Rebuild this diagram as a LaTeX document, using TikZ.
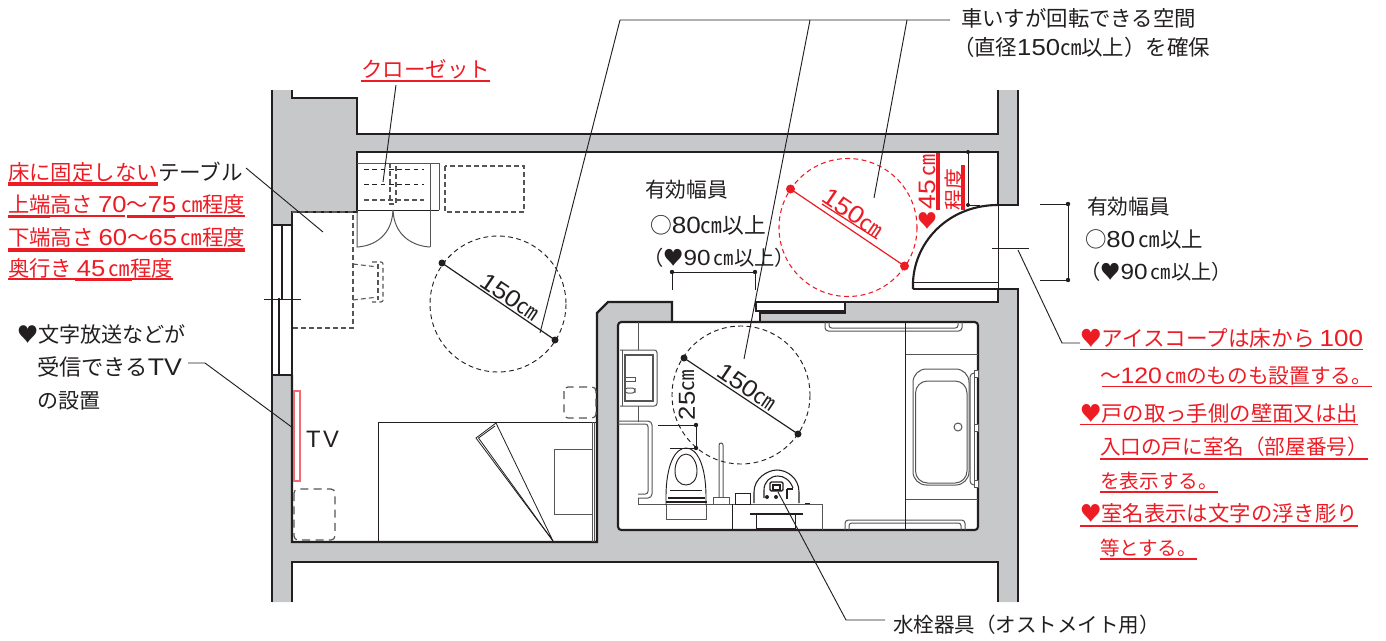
\documentclass[tikz,border=0pt]{standalone}
\usepackage{fontspec}
\usepackage{graphicx}
\setmainfont{Noto Sans CJK JP}
\newfontfamily\latf{Liberation Sans}
\definecolor{wallg}{HTML}{C6C8CA}
\definecolor{inkk}{HTML}{231F20}
\definecolor{redd}{HTML}{ED1C24}
\definecolor{furn}{HTML}{555555}
\newlength\fitlen
\newcommand{\fitw}[2]{\setlength{\fitlen}{\dimexpr #1pt*3/4\relax}\resizebox{\fitlen}{!}{#2}}
\newcommand{\nn}[1]{\scalebox{1.2}[1.08]{\latf #1}}
\newcommand{\cmu}{㎝}
\newcommand{\wav}{〜}
\tikzset{
 lab/.style={inner sep=0pt,outer sep=0pt,anchor=base west,text=inkk,font=\fontsize{15.5}{18}\selectfont},
 rlab/.style={lab,text=redd},
 wall/.style={draw=inkk,line width=1.8pt,line join=miter},
 thinl/.style={draw=inkk,line width=0.7pt},
 lead/.style={draw=inkk,line width=0.7pt},
 furl/.style={draw=furn,line width=0.75pt},
 dash1/.style={draw=inkk,line width=0.7pt,dash pattern=on 3.6pt off 2.6pt},
 dash2/.style={draw=furn,line width=0.8pt,dash pattern=on 3.6pt off 2.4pt},
 dash3/.style={draw=furn,line width=0.9pt,dash pattern=on 6pt off 4pt,rounded corners=3pt},
 redul/.style={draw=redd,line width=1.2pt},
 redul2/.style={draw=redd,line width=2.4pt},
 dotk/.style={fill=inkk},
 dotr/.style={fill=redd},
}
\begin{document}
\begin{tikzpicture}[x=0.75pt,y=-0.75pt]
\useasboundingbox (0,0) rectangle (1386,640);
\fill[white] (0,0) rectangle (1386,640);
% grey body
\fill[wallg] (272,90)--(292,90)--(292,98)--(357,98)--(357,134)--(998,134)--(998,90)--(1018,90)--(1018,602)--(998,602)--(998,562)--(292,562)--(292,602)--(272,602)--cycle;
% white spaces
\fill[white] (292,212)--(357,212)--(357,152)--(998,152)--(998,205)--(1020,205)--(1020,289)--(998,289)--(998,302)--(760,302)--(760,322)--(672,322)--(672,302)--(608,302)--(597,313)--(597,542)--(292,542)--cycle;
\fill[white] (272,225) rectangle (292,375);
\fill[white,rounded corners=2.5pt] (618,322) rectangle (978,530);
% wall outlines
\draw[wall] (272,90)--(272,602);
\draw[wall] (292,90)--(292,98)--(357,98)--(357,134)--(998,134)--(998,90);
\draw[wall] (1018,90)--(1018,205)--(998,205);
\draw[wall] (1018,602)--(1018,289)--(913,289);
\draw[wall] (998,602)--(998,562)--(292,562)--(292,602);
\draw[wall] (292,375)--(292,212)--(357,212)--(357,152)--(998,152)--(998,205);
\draw[wall] (998,289)--(998,302)--(845,302);
\draw[wall] (292,375)--(292,542)--(597,542)--(597,313)--(608,302)--(672,302)--(672,322);
\draw[wall] (760,322)--(760,313)--(845,313)--(845,302);
\draw[wall,line width=1.3pt] (272,225)--(292,225);
\draw[wall,line width=1.3pt] (272,375)--(292,375);
\draw[wall,line width=1.6pt,rounded corners=2.5pt] (618,322) rectangle (978,530);
% sliding door in the passage
\fill[white] (756,303) rectangle (844,311);
\draw[wall,line width=1.2pt] (845,302)--(756,302)--(756,311)--(845,311);
% window
\draw[wall,line width=1.3pt] (282,225)--(282,300);
\draw[wall,line width=1.0pt] (279,298)--(279,375);
\coordinate (wtick1) at (264,299); \coordinate (wtick2) at (301,299);
\draw[thinl] (wtick1)--(wtick2);
% entrance door
\draw[thinl] (998,205)--(998,289);
\draw[thinl] (913,282)--(998,282);
\draw[draw=inkk,line width=1.6pt] (913,289)--(913,282) .. controls (915,240) and (950,205) .. (998,205);
\coordinate (dt1) at (992,248); \coordinate (dt2) at (1029,248);
\draw[thinl] (dt1)--(dt2);
% closet
\draw[furl] (357,163)--(439,163)--(439,210);
\draw[thinl] (357,210)--(439,210);
\draw[furl] (430,163)--(430,247);
\draw[furl] (357,210)--(357,247) .. controls (375,246) and (392,235) .. (393,210);
\draw[furl] (430,247) .. controls (412,246) and (394,235) .. (393,210);
\draw[dash1] (364,169)--(424,169);
\draw[dash1] (364,184)--(424,184);
\draw[dash2] (364,200)--(424,200);
\draw[dash2] (390,163)--(390,204)--(396,204)--(396,163);
\draw[dash2] (445,166) rectangle (524,212);
% table and chair
\draw[dash2] (292,212)--(353,212)--(353,328)--(292,328);
\draw[dash2] (353,264)--(378,267);
\draw[dash2] (353,300)--(378,297);
\draw[dash2,rounded corners=1.5pt] (372,262)--(383,262)--(383,302)--(372,302);
\draw[dash2] (378,264)--(378,300);
% bed
\draw[thinl] (378,542)--(378,422)--(597,422);
\draw[furl] (592,422)--(592,542);
\draw[furl] (594,422)--(594,542);
\draw[furl] (592,449)--(554,449)--(554,514)--(592,514);
\draw[thinl,line width=0.6pt] (553,541)--(476,438)--(496,423)--cycle;
\draw[thinl,line width=0.6pt] (553,541)--(478.5,438)--(495,426);
% tv
\draw[draw=redd!65,line width=0.8pt] (294,391) rectangle (300,481);
% dashed boxes
\draw[dash3] (294,489) rectangle (335,540);
\draw[dash3] (564,387) rectangle (596,418);
% bath room fittings
\draw[furl] (638,322)--(638,350);
\draw[furl] (638,406)--(638,422);
\draw[furl] (638,498)--(638,504)--(822,504)--(822,530);
\draw[thinl] (732,504)--(732,530);
\draw[furl,rounded corners=2pt] (620,350)--(657,350)--(657,406)--(620,406);
\draw[furl,line width=1.1pt] (625,355) rectangle (653,401);
\draw[furl] (622,350)--(622,406);
\draw[furl,fill=white] (625,377) rectangle (635,381);
\draw[furl,rounded corners=2pt] (625,388) rectangle (635,393);
% L-shaped rail
\draw[furl,rounded corners=3pt] (618,421)--(652,421)--(652,498)--(638,498);
\draw[furl,rounded corners=2pt] (618,424)--(648,424)--(648,494)--(638,494);
% toilet
\draw[thinl] (666,505)--(666,497) .. controls (666,465) and (675,448) .. (686,448) .. controls (697,448) and (706,465) .. (706,497)--(706,505);
\draw[thinl] (686,454) .. controls (680,454) and (675,462) .. (675,471) .. controls (675,480) and (680,485) .. (686,485) .. controls (692,485) and (697,480) .. (697,471) .. controls (697,462) and (692,454) .. (686,454) -- cycle;
\draw[furl] (666,505)--(666,519)--(706,519)--(706,505);
\draw[thinl] (670,490)--(702,490);
\draw[thinl,line width=1.4pt] (668,498)--(705,498);
\draw[thinl,line width=1.4pt] (666,502)--(707,502);
% vertical grip
\draw[furl,rounded corners=1.5pt] (719,497)--(719,443)--(723,443)--(723,497);
\draw[furl] (713,497) rectangle (729,504);
\draw[thinl] (735,493) rectangle (750,504);
% ostomate sink
\draw[thinl,line width=0.8pt] (754,503)--(754,492) .. controls (754,478) and (768,470) .. (777,470) .. controls (787,470) and (799,478) .. (799,492)--(799,503);
\draw[thinl,line width=0.8pt] (764,498)--(764,490) .. controls (764,482) and (770,476) .. (778,476) .. controls (784,476) and (790,480) .. (793,488);
\draw[thinl,line width=1pt,rounded corners=1pt] (770,482) rectangle (783,491);
\draw[thinl,line width=1pt] (773,485) rectangle (780,490);
\draw[thinl,line width=1.4pt] (787,489)--(787,499);
\draw[thinl,line width=1pt] (787,489)--(793,489);
\fill[inkk] (767,497) circle [radius=2];
\fill[inkk] (776,497) circle [radius=2];
\draw[thinl,line width=1.6pt] (750,514)--(803,514);
\draw[thinl] (756,515)--(756,529);
\draw[thinl] (795,515)--(795,529);
\draw[thinl,line width=1.4pt] (756,529)--(795,529);
\draw[thinl] (805,503)--(810,503);
% handrails
\draw[furl,rounded corners=2.5pt] (825,322)--(825,331)--(962,331)--(962,322);
\draw[furl,rounded corners=2pt] (829,322)--(829,328)--(958,328)--(958,322);
\draw[furl,rounded corners=2.5pt] (845,530)--(845,520)--(965,520)--(965,530);
\draw[furl,rounded corners=2pt] (849,530)--(849,523)--(961,523)--(961,530);
\draw[thinl] (905.5,322)--(905.5,530);
\draw[furl] (905.5,354)--(978,354);
\draw[furl] (905.5,499)--(978,499);
% tub
\draw[furl,rounded corners=10pt] (913,369) rectangle (969,485);
\draw[furl,rounded corners=9pt] (915.5,381) rectangle (967,483);
\draw[furl,fill=white] (958,427) circle [radius=4];
\draw[furl,rounded corners=3pt] (974,373)--(970,373)--(970,485)--(974,485);
\draw[furl] (974,373)--(974,485);
\draw[furl,fill=white] (974,370) rectangle (978,377);
\draw[furl,fill=white] (974,424) rectangle (978,431);
\draw[furl,fill=white] (974,480) rectangle (978,487);
% circles
\coordinate (ca1) at (442,263); \coordinate (ca2) at (555,340);
\draw[dash1] (498,304) circle [radius=68];
\draw[draw=inkk,line width=0.9pt] (ca1)--(ca2);
\fill[dotk] (ca1) circle [radius=3.5];
\fill[dotk] (ca2) circle [radius=3.5];
\coordinate (cb1) at (684,358); \coordinate (cb2) at (798,434);
\draw[dash1] (741,395) circle [radius=69];
\draw[draw=inkk,line width=0.9pt] (cb1)--(cb2);
\fill[dotk] (cb1) circle [radius=3.5];
\fill[dotk] (cb2) circle [radius=3.5];
\coordinate (cc1) at (790.5,189); \coordinate (cc2) at (904.5,266);
\draw[draw=redd,line width=0.8pt,dash pattern=on 3.6pt off 2.6pt] (848,227.5) circle [radius=69];
\draw[draw=redd,line width=0.9pt] (cc1)--(cc2);
\fill[dotr] (cc1) circle [radius=4.5];
\fill[dotr] (cc2) circle [radius=4.5];
\draw[redul,line width=0.9pt] (822,204)--(877,239);
% 25 cm dimension
\coordinate (d25a) at (696,425); \coordinate (d25b) at (696,448);
\draw[thinl] (658,425)--(d25a)--(d25b)--(670,448);
\fill[dotk] (d25a) circle [radius=2.2];
\fill[dotk] (d25b) circle [radius=2.2];
% 45 cm dimension
\coordinate (d45a) at (968,152); \coordinate (d45b) at (968,205);
\draw[thinl] (d45a)--(d45b)--(980,205);
\fill[dotk] (d45a) circle [radius=2];
\fill[dotk] (d45b) circle [radius=2];
% passage width dimension
\coordinate (dpa) at (672,272); \coordinate (dpb) at (755,272);
\draw[thinl] (672,290)--(dpa)--(dpb)--(755,290);
\fill[dotk] (dpa) circle [radius=2.2];
\fill[dotk] (dpb) circle [radius=2.2];
% entrance width dimension
\coordinate (dea) at (1068,204); \coordinate (deb) at (1068,280);
\draw[thinl] (1040,204)--(dea)--(deb)--(1040,280);
\fill[dotk] (dea) circle [radius=2.2];
\fill[dotk] (deb) circle [radius=2.2];
% leaders
\coordinate (lt0) at (950,20); \coordinate (lt1) at (620,20); \coordinate (lt2) at (810,20); \coordinate (lt3) at (907,20);
\coordinate (lt1e) at (540,333); \coordinate (lt2e) at (744,359); \coordinate (lt3e) at (874,198);
\draw[lead] (lt0)--(lt1)--(lt1e);
\draw[lead] (lt2)--(lt2e);
\draw[lead] (lt3)--(lt3e);
\coordinate (lc1) at (396,85); \coordinate (lc2) at (383,182);
\draw[lead] (lc1)--(lc2);
\coordinate (lta1) at (246,168); \coordinate (lta2) at (323,232);
\draw[lead] (lta1)--(lta2);
\coordinate (ltv0) at (188,363); \coordinate (ltv1) at (205,363); \coordinate (ltv2) at (293,428);
\draw[lead] (ltv0)--(ltv1)--(ltv2);
\coordinate (ld0) at (1018,250); \coordinate (ld1) at (1062,343); \coordinate (ld2) at (1080,343);
\draw[lead] (ld0)--(ld1)--(ld2);
\coordinate (lw0) at (778,492); \coordinate (lw1) at (846,620); \coordinate (lw2) at (885,620);
\draw[lead] (lw0)--(lw1)--(lw2);
% texts
\node[lab] (t1) at (961,26) {\fitw{235}{車いすが回転できる空間}};
\node[lab] (t2) at (953,55) {\fitw{257}{（直径\nn{150}\cmu 以上）を確保}};
\node[rlab] (t3) at (361,77) {\fitw{129}{クローゼット}};
\draw[redul] (361,81)--(490,81);
\node[rlab] (t4) at (8,180) {\fitw{150}{床に固定しない}};
\node[lab] (t4b) at (158,180) {\fitw{85}{テーブル}};
\draw[redul2] (8,184)--(158,184);
\node[rlab] (t5) at (8,212.5) {\fitw{237}{上端高さ \nn{70}\wav\nn{75} \cmu 程度}};
\draw[redul] (8,216)--(125,216);
\draw[redul] (127,216)--(245,216);
\draw[redul2] (8,216.5)--(50,216.5);
\draw[redul2] (127,216.5)--(175,216.5);
\node[rlab] (t6) at (8,245) {\fitw{237}{下端高さ \nn{60}\wav\nn{65}\,\cmu 程度}};
\draw[redul2] (8,250)--(245,250);
\node[rlab] (t7) at (8,276.5) {\fitw{165}{奥行き \nn{45}\,\cmu 程度}};
\draw[redul] (8,279)--(173,279);
\draw[redul2] (75,279.5)--(132,279.5);
\node[lab] (t8) at (17,342) {\fitw{169}{♥文字放送などが}};
\node[lab] (t9) at (37,375) {\fitw{145}{受信できる\nn{TV}}};
\node[lab] (t10) at (37,408) {\fitw{63}{の設置}};
\node[lab] (tv) at (306,447) {\fitw{33}{\latf\fontsize{18}{20}\selectfont T\hspace{2pt}V}};
\node[lab] (t11) at (645,197) {\fitw{83}{有効幅員}};
\node[lab] (t12) at (650,233) {\fitw{116}{○\nn{80}\cmu 以上}};
\node[lab] (t13) at (643,265) {\fitw{152}{（♥\nn{90}\,\cmu 以上）}};
\node[lab] (t14) at (1087,214) {\fitw{83}{有効幅員}};
\node[lab] (t15) at (1085,247) {\fitw{118}{○\nn{80}\,\cmu 以上}};
\node[lab] (t16) at (1080,279) {\fitw{152}{（♥\nn{90}\,\cmu 以上）}};
\node[rlab] (t17) at (1080,346) {\fitw{283}{♥アイスコープは床から \nn{100}}};
\draw[redul] (1080,349.5)--(1363,349.5);
\node[rlab] (t18) at (1100,383) {\fitw{272}{\wav\nn{120}\,\cmu のものも設置する。}};
\draw[redul] (1102,386.5)--(1372,386.5);
\node[rlab] (t19) at (1080,421) {\fitw{278}{♥戸の取っ手側の壁面又は出}};
\draw[redul] (1080,424.5)--(1358,424.5);
\node[rlab] (t20) at (1100,454) {\fitw{268}{入口の戸に室名（部屋番号）}};
\draw[redul] (1100,459)--(1368,459);
\node[rlab] (t21) at (1100,488) {\fitw{118}{を表示する。}};
\draw[redul] (1100,492)--(1218,492);
\node[rlab] (t22) at (1080,521) {\fitw{278}{♥室名表示は文字の浮き彫り}};
\draw[redul] (1080,526)--(1358,526);
\node[rlab] (t23) at (1100,555) {\fitw{97}{等とする。}};
\draw[redul] (1100,559)--(1197,559);
\node[lab] (t24) at (893,632) {\fitw{267}{水栓器具（オストメイト用）}};
% rotated measures
\node[lab,anchor=center,rotate=-34] (m1) at (510,297) {\fitw{66}{\nn{150}\cmu}};
\node[lab,anchor=center,rotate=-34] (m2) at (747,387) {\fitw{66}{\nn{150}\cmu}};
\node[rlab,anchor=center,rotate=-34] (m3) at (853,213) {\fitw{68}{\nn{150}\cmu}};
\node[lab,anchor=center,rotate=90] (m4) at (687,395) {\fitw{50}{\nn{25}\cmu}};
\node[rlab,anchor=center,rotate=90] (m5) at (927,182) {\fitw{55}{\nn{45}\,\cmu}};
\node[rlab,anchor=center,rotate=90] (m6) at (955,189) {\fitw{42}{程度}};
\draw[redul2] (938,153)--(938,210);
\draw[redul2] (963,165)--(963,210);
\node[rlab,anchor=center] (hrt) at (927,221) {\fitw{20}{♥}};
\end{tikzpicture}
\end{document}
